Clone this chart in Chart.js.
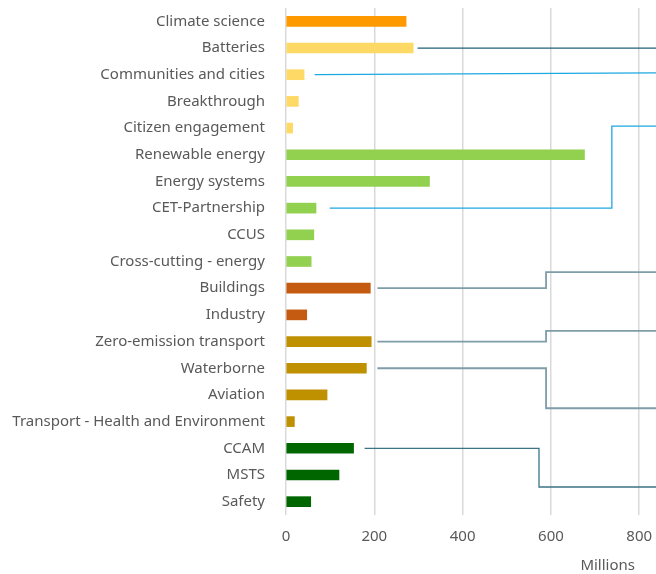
<!DOCTYPE html>
<html>
<head>
<meta charset="utf-8">
<script src="https://cdn.jsdelivr.net/npm/chart.js@4.4.1/dist/chart.umd.min.js"></script>
<style>
  html, body { margin: 0; padding: 0; background: #fff; }
  #wrap { width: 656px; height: 574px; }
</style>
</head>
<body>
<div id="wrap"><canvas id="budget-chart"></canvas></div>
<script>
// Data
const categories = [
    'Climate science', 'Batteries', 'Communities and cities', 'Breakthrough',
    'Citizen engagement', 'Renewable energy', 'Energy systems', 'CET-Partnership',
    'CCUS', 'Cross-cutting - energy', 'Buildings', 'Industry',
    'Zero-emission transport', 'Waterborne', 'Aviation',
    'Transport - Health and Environment', 'CCAM', 'MSTS', 'Safety'
];
const budgets = [272, 288, 41, 28, 15, 676, 325, 68, 63, 57, 191, 47, 193, 182, 93, 19, 153, 120, 56];
const barColors = [
    '#FF9900', '#FFD966', '#FFD966', '#FFD966', '#FFD966',
    '#92D050', '#92D050', '#92D050', '#92D050', '#92D050',
    '#C55A11', '#C55A11',
    '#BF9000', '#BF9000', '#BF9000', '#BF9000',
    '#006600', '#006600', '#006600'
];
const xTicks = [0, 200, 400, 600, 800];

// callout leaders (value units): row, start value, elbow value, end row
const callouts = [
    { row: 1, from: 298, elbow: null, toRow: 1, color: '#1F5F7A', width: 1.3 },
    { row: 2, from: 65, elbow: null, toRow: 1.93, color: '#1CA8E3', width: 1.3 },
    { row: 7, from: 99, elbow: 738, toRow: 3.93, color: '#1CA8E3', width: 1.3 },
    { row: 10, from: 207, elbow: 589, toRow: 9.4, color: '#7E9DA8', width: 1.8 },
    { row: 12, from: 207, elbow: 589, toRow: 11.6, color: '#7E9DA8', width: 1.8 },
    { row: 13, from: 207, elbow: 589, toRow: 14.5, color: '#7E9DA8', width: 1.8 },
    { row: 16, from: 178, elbow: 573, toRow: 17.45, color: '#3C7387', width: 1.3 }
];

const calloutPlugin = {
    id: 'callouts',
    afterDatasetsDraw(chart) {
        const ctx = chart.ctx;
        const x = chart.scales.x;
        const y = chart.scales.y;
        const right = chart.width;
        ctx.save();
        callouts.forEach(c => {
            ctx.beginPath();
            ctx.strokeStyle = c.color;
            ctx.lineWidth = c.width;
            ctx.moveTo(x.getPixelForValue(c.from), y.getPixelForValue(c.row));
            if (c.elbow !== null) {
                ctx.lineTo(x.getPixelForValue(c.elbow), y.getPixelForValue(c.row));
                ctx.lineTo(x.getPixelForValue(c.elbow), y.getPixelForValue(c.toRow));
            }
            ctx.lineTo(right, y.getPixelForValue(c.toRow));
            ctx.stroke();
        });
        ctx.restore();
    }
};

// "Millions" sits a little left of the plot's right edge
const axisTitlePlugin = {
    id: 'axisTitle',
    afterDraw(chart) {
        const ctx = chart.ctx;
        ctx.save();
        ctx.font = "15px " + chartFont;
        ctx.fillStyle = '#595959';
        ctx.textAlign = 'right';
        ctx.textBaseline = 'middle';
        ctx.fillText('Millions', chart.chartArea.right - 21, 566);
        ctx.restore();
    }
};

const chartFont = "'Noto Sans', 'Open Sans', sans-serif";

new Chart(document.getElementById('budget-chart'), {
    type: 'bar',
    data: {
        labels: categories,
        datasets: [{
            label: 'Budget',
            data: budgets,
            backgroundColor: barColors,
            barThickness: 10
        }]
    },
    options: {
        indexAxis: 'y',
        responsive: true,
        maintainAspectRatio: false,
        animation: false,
        layout: { padding: { top: 8, left: 0, right: 0, bottom: 0 } },
        plugins: {
            legend: { display: false },
            tooltip: { enabled: false }
        },
        scales: {
            x: {
                min: 0,
                max: 838,
                afterBuildTicks: scale => {
                    scale.ticks = xTicks.map(v => ({ value: v }));
                },
                afterFit: scale => {
                    scale.height = 59;
                    scale.paddingLeft = 0;
                    scale.paddingRight = 0;
                },
                grid: { color: '#D9D9D9', lineWidth: 1.5, drawTicks: false },
                border: { display: false },
                ticks: {
                    color: '#595959',
                    padding: 13,
                    font: { family: chartFont, size: 15 }
                }
            },
            y: {
                afterFit: scale => {
                    scale.width = 286;
                    scale.paddingTop = 0;
                    scale.paddingBottom = 0;
                },
                grid: { display: false },
                border: { display: false },
                ticks: {
                    color: '#595959',
                    padding: 13,
                    autoSkip: false,
                    font: { family: chartFont, size: 15 }
                }
            }
        }
    },
    plugins: [calloutPlugin, axisTitlePlugin]
});
</script>
</body>
</html>
